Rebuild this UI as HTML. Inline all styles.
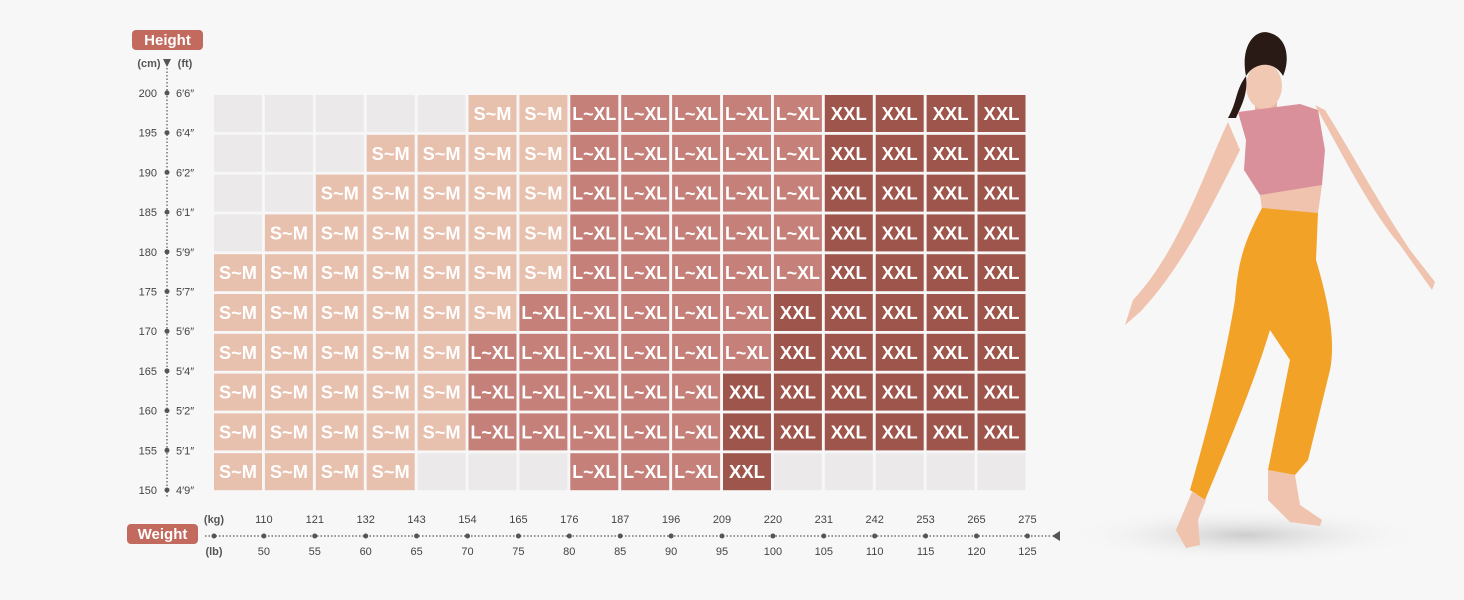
<!DOCTYPE html>
<html><head><meta charset="utf-8">
<style>
html,body{margin:0;padding:0;background:#f7f7f7;}
body{width:1464px;height:600px;position:relative;overflow:hidden;font-family:"Liberation Sans",sans-serif;}
svg{position:absolute;left:0;top:0;}
</style></head>
<body>
<svg id="s" width="1464" height="600" xmlns="http://www.w3.org/2000/svg">
<defs>
<radialGradient id="sh" cx="0.5" cy="0.5" r="0.5">
<stop offset="0" stop-color="#c8c8c8" stop-opacity="0.9"/>
<stop offset="1" stop-color="#f7f7f7" stop-opacity="0"/>
</radialGradient>
</defs>
<rect x="132" y="30" width="71" height="20" rx="4" fill="#c26a5e"/>
<text x="167.5" y="45" font-size="15" font-weight="bold" fill="#fff" text-anchor="middle">Height</text>
<text x="149" y="67" font-size="11" font-weight="bold" fill="#555" text-anchor="middle">(cm)</text>
<text x="185" y="67" font-size="11" font-weight="bold" fill="#555" text-anchor="middle">(ft)</text>
<polygon points="163,59 171,59 167,67" fill="#555"/>
<line x1="167" y1="68" x2="167" y2="498" stroke="#555" stroke-width="1.2" stroke-dasharray="1.5,2"/>
<rect x="127" y="524" width="71" height="20" rx="4" fill="#c26a5e"/>
<text x="162.5" y="539" font-size="15" font-weight="bold" fill="#fff" text-anchor="middle">Weight</text>
<text x="214" y="523" font-size="11" font-weight="bold" fill="#555" text-anchor="middle">(kg)</text>
<text x="214" y="555" font-size="11" font-weight="bold" fill="#555" text-anchor="middle">(lb)</text>
<line x1="205" y1="536" x2="1052" y2="536" stroke="#555" stroke-width="1.2" stroke-dasharray="1.5,2"/>
<polygon points="1052,536 1060,531 1060,541" fill="#555"/>
<g id="g"></g>
<ellipse cx="1245" cy="535" rx="180" ry="28" fill="url(#sh)"/>
<path d="M1228,122 C1205,170 1180,250 1133,300 L1125,325 L1140,312 C1180,270 1210,210 1240,150 Z" fill="#efc3ad"/>
<path d="M1315,105 C1340,150 1370,210 1400,245 L1432,290 L1435,282 L1410,250 C1380,205 1350,150 1325,110 Z" fill="#efc3ad"/>
<rect x="1255" y="100" width="22" height="22" fill="#e8b8a2"/>
<ellipse cx="1264" cy="86" rx="18" ry="23" fill="#f0c8b4"/>
<path d="M1246,76 C1240,46 1255,28 1270,33 C1288,38 1290,60 1283,76 C1275,61 1255,61 1246,76 Z M1246,76 C1235,91 1238,100 1228,118 L1236,118 C1242,104 1248,94 1246,76Z" fill="#2a1a16"/>
<path d="M1238,112 L1300,104 L1318,110 L1325,150 L1322,185 C1300,190 1270,195 1260,195 L1244,170 L1246,140 Z" fill="#d9909a"/>
<path d="M1260,195 L1322,185 L1318,213 L1262,210 Z" fill="#efc3ad"/>
<path d="M1262,208 L1318,213 L1316,260 C1328,300 1336,340 1330,370 L1308,460 L1295,475 L1268,470 L1290,360 L1270,330 C1255,380 1230,440 1205,500 L1190,490 C1210,420 1225,360 1235,300 C1238,260 1245,240 1262,208 Z" fill="#f2a226"/>
<path d="M1192,492 L1206,500 L1198,520 L1200,545 L1186,548 L1176,530 Z" fill="#efc3ad"/>
<path d="M1268,470 L1295,475 L1300,505 L1322,520 L1320,526 L1290,522 L1268,500 Z" fill="#efc3ad"/>
</svg>
<script>
var g=document.getElementById('g'),NS='http://www.w3.org/2000/svg';
var rows=["EEEEESSLLLLLXXXX","EEESSSSLLLLLXXXX","EESSSSSLLLLLXXXX","ESSSSSSLLLLLXXXX","SSSSSSSLLLLLXXXX","SSSSSSLLLLLXXXXX","SSSSSLLLLLLXXXXX","SSSSSLLLLLXXXXXX","SSSSSLLLLLXXXXXX","SSSSEEELLLXEEEEE"];
var col={E:'#ebe9ea',S:'#e8c0ae',L:'#c5807a',X:'#9e564c'},lab={S:'S~M',L:'L~XL',X:'XXL'};
function el(t,a,txt){var e=document.createElementNS(NS,t);for(var k in a)e.setAttribute(k,a[k]);if(txt!=null)e.textContent=txt;g.appendChild(e);return e;}
var cw=50.9,rh=39.8;
for(var r=0;r<10;r++)for(var c=0;c<16;c++){var t=rows[r][c],x=214+c*cw,y=95+r*rh;
el('rect',{x:x,y:y,width:48,height:37,fill:col[t]});
if(t!='E')el('text',{x:x+24,y:y+25,'font-size':18,'font-weight':'bold',fill:'#fff','text-anchor':'middle',textLength:(t=='L'?44:(t=='S'?38:36)),lengthAdjust:'spacingAndGlyphs'},lab[t]);}
var cm=[200,195,190,185,180,175,170,165,160,155,150],ft=["6′6″","6′4″","6′2″","6′1″","5′9″","5′7″","5′6″","5′4″","5′2″","5′1″","4′9″"];
for(var i=0;i<11;i++){var y=93+i*39.7;if(i==10)y=490;
el('circle',{cx:167,cy:y,r:2.5,fill:'#555'});
el('text',{x:157,y:y+4,'font-size':11,fill:'#444','text-anchor':'end'},cm[i]);
el('text',{x:176,y:y+4,'font-size':11,fill:'#444'},ft[i]);}
var kg=[110,121,132,143,154,165,176,187,196,209,220,231,242,253,265,275];
el('circle',{cx:214,cy:536,r:2.5,fill:'#555'});
for(var i=0;i<16;i++){var x=214+(i+1)*cw-1;
el('circle',{cx:x,cy:536,r:2.5,fill:'#555'});
el('text',{x:x,y:523,'font-size':11,fill:'#444','text-anchor':'middle'},kg[i]);
el('text',{x:x,y:555,'font-size':11,fill:'#444','text-anchor':'middle'},50+i*5);}
</script>
</body></html>
